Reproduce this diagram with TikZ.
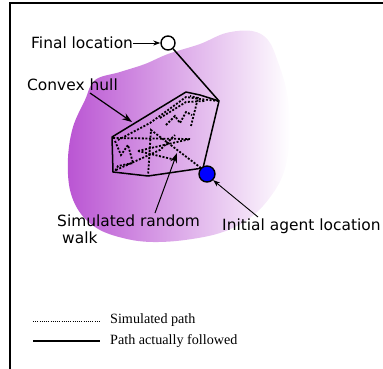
\documentclass[tikz,border=0pt]{standalone}
\usepackage{fontspec}
\setmainfont{Liberation Serif}
\newfontfamily\labfont{DejaVu Sans}
\usetikzlibrary{arrows.meta}
\definecolor{blobpurple}{RGB}{186,85,211}
\tikzset{
  lab/.style={font=\labfont\fontsize{15.5}{18}\selectfont, inner sep=0pt},
  leg/.style={font=\fontsize{14.2}{16}\selectfont, inner sep=0pt, anchor=west},
  hull/.style={line width=1.5bp, line join=round},
  walkline/.style={line width=1.8bp, dash pattern=on 2bp off 1.6bp},
  thinarrow/.style={line width=0.9bp, -{Stealth[length=7bp,width=5bp]}},
  thickarrow/.style={line width=1.2bp, -{Stealth[length=10bp,width=7bp]}},
}
\begin{document}
\begin{tikzpicture}[x=1bp,y=-1bp]
\useasboundingbox (0,0) rectangle (383,369);
% frame
\draw[line width=1.5bp] (10,369) -- (10,3) -- (383,3);
% blob
\shade[left color=blobpurple, right color=white, shading angle=90]
  plot[smooth cycle, tension=0.6] coordinates {
  (95,80) (120,72) (145,64) (168,54) (200,44) (226,33) (252,31) (268,40)
  (278,62) (287,93) (290,133) (284,172) (268,200) (247,220) (220,233)
  (185,240) (153,242) (127,239) (100,230) (81,214) (70,190) (68,158)
  (73,127) (85,100)};
% hull vertices
\coordinate (h1) at (112,137);
\coordinate (h2) at (186,92);
\coordinate (h3) at (200,95);
\coordinate (h4) at (219,101);
\coordinate (h5) at (203,168);
\coordinate (h6) at (148,176);
\coordinate (h7) at (113,172);
% simulated walk (dotted)
\draw[walkline] (113,138) -- (190,139);
\draw[walkline] (201,168) -- (151,130) -- (148,176);
\draw[walkline] (118,140) -- (150,123) -- (186,97) -- (200,99) -- (218,101);
\draw[walkline] (115,141) -- (121,155) -- (128,145) -- (133,163) -- (118,166) -- (115,171);
\draw[walkline] (138,151) -- (190,139);
\draw[walkline] (138,151) -- (176,160);
\draw[walkline] (116,170) -- (160,150) -- (175,135);
\draw[walkline] (166,125) -- (175,116) -- (180,123) -- (186,112) -- (192,115);
\draw[walkline] (191,126) -- (198,98) -- (190,96);
\draw[walkline] (160,118) -- (186,102) -- (205,101);
% hull (solid)
\draw[hull] (h1) -- (h2) -- (h3) -- (h4) -- (h5) -- (h6) -- (h7) -- cycle;
% locations
\node[circle, draw, fill=white, line width=1.4bp, minimum size=14bp, inner sep=0pt] (fin) at (168,43) {};
\node[circle, draw, fill=blue, line width=1.4bp, minimum size=16bp, inner sep=0pt] (ini) at (207,174) {};
\draw[hull] (fin) -- (h4);
% labels
\node[lab, anchor=west] (finlab) at (31,43) {Final location};
\node[lab, anchor=west] (hulllab) at (27,85) {Convex hull};
\node[lab, anchor=west, align=left] (walklab) at (57,229) {Simulated random\\[-1pt]\hspace{5bp}walk};
\node[lab, anchor=west] (inilab) at (222,226) {Initial agent location};
% pointers
\draw[thinarrow] (finlab.east) -- (fin.west);
\coordinate (hullpt) at (132,122);
\draw[thickarrow] (90,93) -- (hullpt);
\coordinate (walkpt) at (177,153);
\draw[thickarrow, line width=1bp] (155,213) -- (walkpt);
\coordinate (inipt) at (258,217);
\draw[thinarrow] (inipt) -- (ini.south east);
% legend
\coordinate (l1a) at (33,321);
\coordinate (l1b) at (100,321);
\coordinate (l2a) at (33,341);
\coordinate (l2b) at (100,341);
\draw[line width=0.9bp, dash pattern=on 1bp off 1.2bp] (l1a) -- (l1b);
\draw[line width=1.5bp] (l2a) -- (l2b);
\node[leg] (leg1) at (110,320) {Simulated path};
\node[leg] (leg2) at (110,341) {Path actually followed};
\end{tikzpicture}
\end{document}
